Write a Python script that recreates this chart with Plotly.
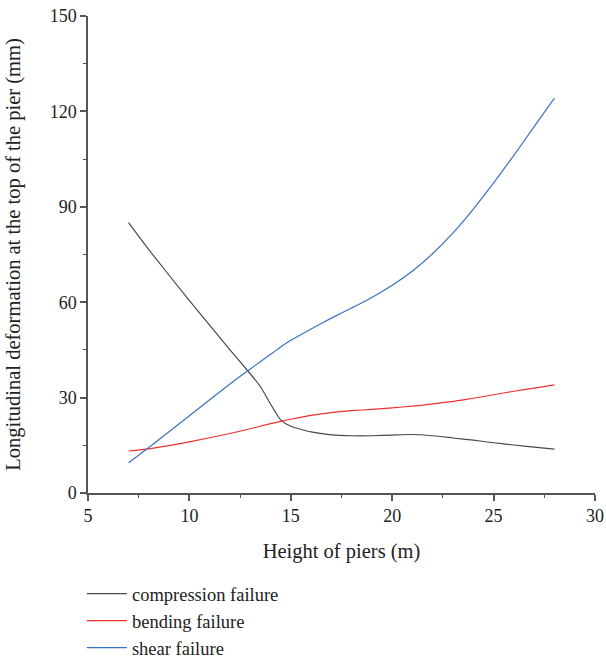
import plotly.graph_objects as go

heights = [7, 8, 10, 12, 13, 13.5, 14, 14.5, 15, 16, 17, 18, 19, 20, 21, 22, 23, 24, 25, 26, 27, 28]
compression = [85, 76.5, 60.5, 45, 37.5, 33.5, 28, 23, 21, 19.2, 18.3, 18, 18, 18.2, 18.4, 18.0, 17.3, 16.6, 15.8, 15.1, 14.4, 13.8]
bending = [13.2, 13.9, 16.1, 18.7, 20.2, 21, 21.8, 22.5, 23.2, 24.4, 25.3, 25.9, 26.3, 26.8, 27.3, 28, 28.8, 29.8, 30.9, 32, 33, 34]
shear = [9.5, 14.3, 24.3, 34.3, 39, 41.3, 43.6, 45.9, 48, 51.6, 55, 58.2, 61.5, 65.3, 69.8, 75.3, 81.8, 89.3, 97.5, 106.2, 115.2, 124.2]

series = [
    ("compression failure", compression, "#4a4a4a"),
    ("bending failure", bending, "#f03030"),
    ("shear failure", shear, "#3b70c4"),
]

font_family = "Liberation Serif"
tick_fs = 18
title_fs = 20.5
legend_fs = 18.5

fig = go.Figure()
for i, (name, vals, color) in enumerate(series):
    fig.add_trace(go.Scatter(
        x=heights, y=vals, mode="lines", name=name,
        line=dict(color=color, width=1.2, shape="spline", smoothing=0.5),
    ))

axis_common = dict(
    showline=True, linecolor="#555555", linewidth=1.5,
    ticks="outside", ticklen=6, tickwidth=1.5, tickcolor="#555555",
    showgrid=False, zeroline=False, mirror=False, automargin=False,
    tickfont=dict(family=font_family, size=tick_fs, color="#222222"),
)

fig.update_layout(
    width=606, height=659,
    margin=dict(l=88, r=11, t=16, b=166, autoexpand=False),
    paper_bgcolor="white", plot_bgcolor="white",
    font=dict(family=font_family, size=tick_fs, color="#222222"),
    xaxis=dict(
        range=[5, 30], tickvals=[5, 10, 15, 20, 25, 30],
        minor=dict(ticks="outside", ticklen=3, tickwidth=1.2, tickcolor="#555555", dtick=2.5, tick0=5),
        title=dict(text="Height of piers (m)", font=dict(family=font_family, size=title_fs), standoff=18),
        **axis_common,
    ),
    yaxis=dict(
        range=[0, 150], tickvals=[0, 30, 60, 90, 120, 150],
        minor=dict(ticks="outside", ticklen=3, tickwidth=1.2, tickcolor="#555555", dtick=15, tick0=0),
        title=dict(text="Longitudinal deformation at the top of the pier (mm)",
                   font=dict(family=font_family, size=title_fs), standoff=23),
        **axis_common,
    ),
    legend=dict(
        x=-0.012, y=-0.172, xanchor="left", yanchor="top",
        orientation="v",
        font=dict(family=font_family, size=legend_fs, color="#222222"),
        bgcolor="rgba(0,0,0,0)", itemwidth=40,
    ),
    showlegend=True,
)

fig.write_html("out.html")
